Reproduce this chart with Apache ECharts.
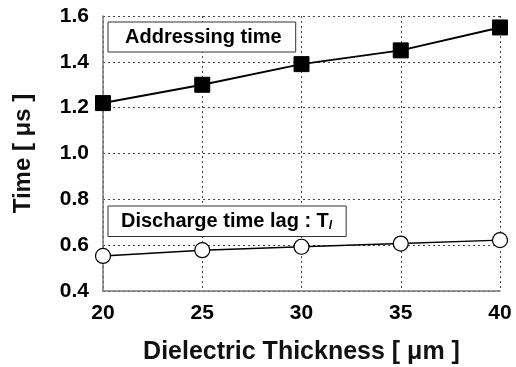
<!DOCTYPE html>
<html>
<head>
<meta charset="utf-8">
<script src="https://cdn.jsdelivr.net/npm/echarts@6/dist/echarts.min.js"></script>
<style>
  html, body { margin: 0; padding: 0; background: #fff; }
  #chart { width: 516px; height: 367px; }
</style>
</head>
<body>
<div id="chart"></div>
<script>
const thickness = [20, 25, 30, 35, 40]
const addressingTime = [1.22, 1.30, 1.39, 1.45, 1.55]
const dischargeLag = [0.553, 0.578, 0.593, 0.607, 0.622]
const yTicks = ['0.4', '0.6', '0.8', '1.0', '1.2', '1.4', '1.6']

const font = '"Liberation Sans", Arial, sans-serif'
const chart = echarts.init(document.getElementById('chart'))

function pairs(ys) {
  return thickness.map((x, i) => [x, ys[i]])
}

const legendBox = {
  orient: 'horizontal',
  icon: 'none',
  itemWidth: 0,
  itemGap: 0,
  backgroundColor: '#fff',
  borderColor: '#333',
  borderWidth: 1,
  selectedMode: false,
  textStyle: {
    fontFamily: font,
    fontWeight: 'bold',
    fontSize: 20,
    color: '#000',
    rich: {
      sub: { fontFamily: font, fontWeight: 'bold', fontStyle: 'italic', fontSize: 12, color: '#000', verticalAlign: 'bottom', padding: [9, 0, 0, 0] }
    }
  }
}

const option = {
  backgroundColor: '#fff',
  animation: false,
  grid: { left: 103, right: 16, top: 16, bottom: 76, outerBoundsMode: 'none', containLabel: false },
  legend: [
    Object.assign({}, legendBox, { left: 108, top: 22, padding: [5, 14, 5, 12], data: ['Addressing time'] }),
    Object.assign({}, legendBox, {
      left: 108, top: 206, padding: [5, 14, 5, 8], data: ['Discharge time lag'],
      formatter: () => 'Discharge time lag : T{sub|l}'
    })
  ],
  xAxis: {
    type: 'value',
    min: 20,
    max: 40,
    interval: 5,
    name: 'Dielectric Thickness [ μm ]',
    nameLocation: 'middle',
    nameGap: 49,
    nameTextStyle: { fontFamily: font, fontSize: 25, fontWeight: 'bold', color: '#111' },
    axisLine: { lineStyle: { color: '#777', width: 1.5 } },
    axisTick: { show: false },
    axisLabel: { fontFamily: font, fontWeight: 'bold', fontSize: 21, color: '#000', margin: 12 },
    splitLine: { show: true, lineStyle: { color: '#444', type: [2, 3], width: 1 } }
  },
  yAxis: {
    type: 'value',
    min: 0.4,
    max: 1.6,
    interval: 0.2,
    name: 'Time [ μs ]',
    nameLocation: 'middle',
    nameGap: 68,
    nameTextStyle: { fontFamily: font, fontSize: 24, fontWeight: 'bold', color: '#111' },
    axisLine: { show: true, lineStyle: { color: '#777', width: 1.5 } },
    axisTick: { show: false },
    axisLabel: {
      fontFamily: font, fontWeight: 'bold', fontSize: 21, color: '#000', margin: 14,
      formatter: (v) => yTicks[Math.round((v - 0.4) / 0.2)]
    },
    splitLine: { show: true, lineStyle: { color: '#444', type: [2, 3], width: 1 } }
  },
  series: [
    {
      name: 'Addressing time',
      type: 'line',
      data: pairs(addressingTime),
      symbol: 'rect',
      symbolSize: 15,
      lineStyle: { color: '#000', width: 2 },
      itemStyle: { color: '#000', borderColor: '#000' },
      z: 3
    },
    {
      name: 'Discharge time lag',
      type: 'line',
      data: pairs(dischargeLag),
      symbol: 'circle',
      symbolSize: 15,
      lineStyle: { color: '#000', width: 1.5 },
      itemStyle: { color: '#fff', borderColor: '#000', borderWidth: 1.2 },
      z: 3
    }
  ]
}

chart.setOption(option)
</script>
</body>
</html>
